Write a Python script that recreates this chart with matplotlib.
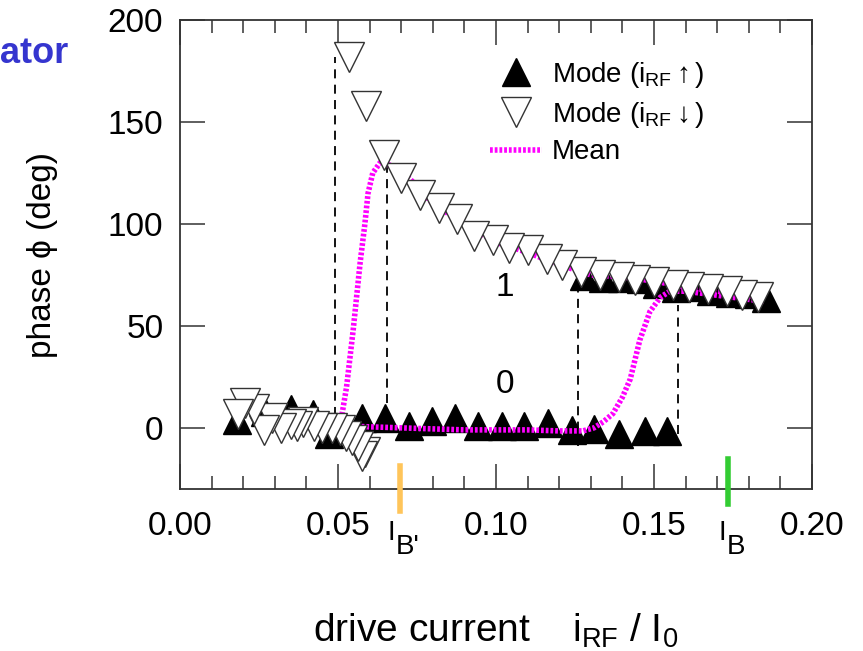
import numpy as np
import matplotlib
matplotlib.use('Agg')
import matplotlib.pyplot as plt
from matplotlib.lines import Line2D

plt.rcParams['font.family'] = ['Liberation Sans', 'DejaVu Sans']
plt.rcParams['mathtext.fontset'] = 'custom'
plt.rcParams['mathtext.rm'] = 'Liberation Sans'
plt.rcParams['mathtext.it'] = 'Liberation Sans:italic'
plt.rcParams['mathtext.bf'] = 'Liberation Sans:bold'

# mode of phase, sweeping drive current up (filled) -- lower branch 0 and upper branch 1
up_x0 = [0.018, 0.027, 0.035, 0.042, 0.047, 0.0575, 0.065, 0.0725, 0.0798, 0.087,
         0.0944, 0.1018, 0.109, 0.1166, 0.124, 0.131, 0.139, 0.147, 0.154]
up_y0 = [4, 8, 9, 7, -3, 5, 5, 1, 3.4, 4.7, 0.7, 0.7, 0.7, 2.5, -1.2, -0.5, -3.2, -1.5, -1.5]
up_x1 = [0.128, 0.134, 0.140, 0.146, 0.151, 0.157, 0.163, 0.168, 0.174, 0.180, 0.1854]
up_y1 = [74.5, 73.5, 73.5, 73, 70.5, 68.5, 69, 67, 66, 65.5, 63.5]

# mode of phase, sweeping drive current down (open)
dn_x = [0.183, 0.178, 0.173, 0.167, 0.161, 0.156, 0.150, 0.144, 0.139, 0.133, 0.127,
        0.121, 0.116, 0.110, 0.104, 0.099, 0.093, 0.0877, 0.082, 0.076, 0.070, 0.0647,
        0.059, 0.0535,
        0.0585, 0.0575, 0.0564, 0.0545, 0.0525, 0.0505, 0.048, 0.045, 0.0425, 0.039,
        0.037, 0.035, 0.032, 0.029, 0.0265, 0.0235, 0.0205, 0.0185]
dn_y = [64, 65, 67, 68, 69, 70, 71.5, 72.5, 74, 75, 76.5,
        80, 83, 87, 88, 92, 94, 102.5, 108, 114, 122.5, 134,
        158, 182,
        -12, -14, -9, -6, -4, -1, 0, 0, 1, 3,
        1, 2, 0, 5, -1, 9, 12, 7]

# mean phase for each sweep direction
mean_dn_x = [0.0505, 0.0512, 0.0527, 0.0548, 0.057, 0.0585, 0.0595, 0.061, 0.0633, 0.0686,
             0.0734, 0.08, 0.09, 0.10, 0.11, 0.12, 0.13, 0.14, 0.15, 0.16, 0.17, 0.18, 0.185]
mean_dn_y = [2, 6, 20, 48, 81, 100, 115, 125, 130, 128,
             121, 110, 100, 91, 86, 80, 75, 74, 72, 69, 67, 65, 63]
mean_up_x = [0.050, 0.06, 0.07, 0.08, 0.09, 0.10, 0.11, 0.12, 0.1275, 0.131, 0.134, 0.137,
             0.140, 0.1425, 0.1455, 0.1487, 0.152, 0.155, 0.160, 0.165, 0.170, 0.175, 0.180, 0.185]
mean_up_y = [1, 0.5, 0, -0.5, -1, -1, -1, -1.5, -1.5, 0, 3, 7,
             15, 24, 43, 57, 64, 67, 67, 66, 65, 64, 63, 62]

# switching limits (x, y_low, y_high)
switch_x = [0.049, 0.0655, 0.126, 0.1576]
switch_lo = [6, 12, -9, -3]
switch_hi = [182, 129, 68, 60]

# bifurcation currents marked on the axis
i_bp = 0.0696
i_b = 0.1734

fig = plt.figure(figsize=(8.63, 6.51), dpi=100)
ax = fig.add_axes([0.2086, 0.2488, 0.7323, 0.7205])

for x, lo, hi in zip(switch_x, switch_lo, switch_hi):
    ax.plot([x, x], [lo, hi], color='black', lw=1.3, ls=(0, (5, 3.5)), zorder=1)

ax.plot(up_x0, up_y0, ls='none', marker='^', ms=20, color='black', mec='black', zorder=2)
ax.plot(up_x1, up_y1, ls='none', marker='^', ms=20, color='black', mec='black', zorder=2)

mean_style = dict(color='#ff00ff', lw=4, ls=(0, (0.5, 0.35)), zorder=3)
ax.plot(mean_up_x, mean_up_y, **mean_style)
ax.plot(mean_dn_x, mean_dn_y, **mean_style)

ax.plot(dn_x, dn_y, ls='none', marker='v', ms=21, mfc='white', mec='#333333', mew=1.0, zorder=4)

ax.plot([i_bp, i_bp], [-18.6, -40.7], color='#ffc55a', lw=4, clip_on=False, zorder=5)
ax.plot([i_b, i_b], [-15.2, -37.3], color='#33cc33', lw=4, clip_on=False, zorder=5)

ax.text(i_bp - 0.0040, -55, 'I', fontsize=20, ha='left', va='baseline')
ax.text(i_bp - 0.0012, -62, "B'", fontsize=20, ha='left', va='baseline')
ax.text(i_b - 0.0030, -55, 'I', fontsize=20, ha='left', va='baseline')
ax.text(i_b - 0.0004, -62, 'B', fontsize=20, ha='left', va='baseline')

ax.text(0.1028, 69, '1', fontsize=24, ha='center', va='center')
ax.text(0.1028, 21.5, '0', fontsize=24, ha='center', va='center')

ax.set_xlim(0, 0.20)
ax.set_ylim(-30, 200)
ax.set_xticks([0.00, 0.05, 0.10, 0.15, 0.20])
ax.set_xticklabels(['0.00', '0.05', '0.10', '0.15', '0.20'])
ax.set_xticks(np.arange(0, 0.2001, 0.01), minor=True)
ax.set_yticks([0, 50, 100, 150, 200])

ax.tick_params(which='both', direction='in', top=True, right=True, width=1.1, color='#333333')
ax.tick_params(which='major', length=18, labelsize=24)
ax.tick_params(which='minor', length=9.5)
ax.tick_params(axis='x', pad=16)
ax.tick_params(axis='y', pad=12)
for s in ax.spines.values():
    s.set_linewidth(1.3)
    s.set_color('#333333')

ax.set_xlabel(r'drive current    i$_{\rm RF}$ / I$_0$', fontsize=28, labelpad=50)
ax.set_ylabel('phase ϕ (deg)', fontsize=24, labelpad=36)

handles = [
    Line2D([], [], ls='none', marker='^', ms=20, color='black'),
    Line2D([], [], ls='none', marker='v', ms=21, mfc='white', mec='#333333', mew=1.0),
    Line2D([], [], **mean_style),
]
labels = [r'Mode (i$_{\rm RF}$$\uparrow$)', r'Mode (i$_{\rm RF}$$\downarrow$)', 'Mean']
ax.legend(handles, labels, loc='upper left', bbox_to_anchor=(0.49, 0.915), frameon=False,
          fontsize=20, handlelength=1.9, handletextpad=0.35, labelspacing=0.35,
          borderpad=0, borderaxespad=0)

fig.text(0.0, 1 - 63 / 651, 'ator', fontsize=26, fontweight='bold', color='#3535cf',
         ha='left', va='baseline')

fig.savefig('out.png', dpi=100)
